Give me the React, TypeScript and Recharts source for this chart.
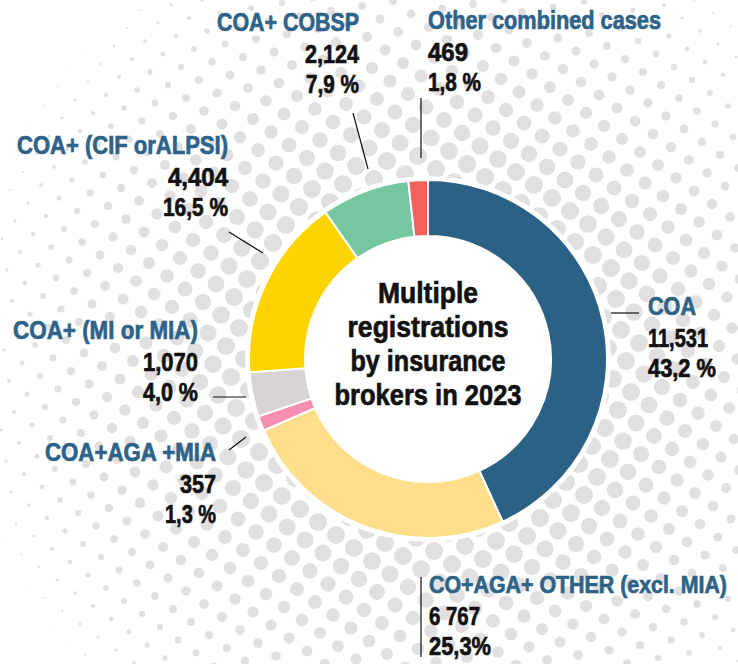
import React from 'react';
import { PieChart, Pie, Cell } from 'recharts';

// registrations, in clockwise order starting at 12 o'clock
const categories = [
  'COA',
  'CO+AGA+ OTHER (excl. MIA)',
  'COA+AGA +MIA',
  'COA+ (MI or MIA)',
  'COA+ (CIF orALPSI)',
  'COA+ COBSP',
  'Other combined cases',
];
const counts = [11531, 6767, 357, 1070, 4404, 2124, 469];
const countLabels = ['11,531', '6 767', '357', '1,070', '4,404', '2,124', '469'];
const shareLabels = ['43,2 %', '25,3%', '1,3 %', '4,0 %', '16,5 %', '7,9 %', '1,8 %'];
const colors = ['#2c6186', '#fddf8b', '#f98fb0', '#d9d4d4', '#fcd400', '#75c7a0', '#f2605a'];

const W = 738;
const H = 664;
const CX = 428;
const CY = 359;
const FONT = "'Liberation Sans', Arial, sans-serif";
const TITLE_BLUE = '#2d6389';

// label block: anchor x, first baseline, widths of the 3 lines (the font is squeezed to fit), leader line
const labelLayout = [
  { x: 648, y: 315, anchor: 'start', w: [48, 60, 68], line: [611, 313, 639, 313] },
  { x: 429, y: 593, anchor: 'start', w: [298, 51, 62], line: [421, 577, 421, 657] },
  { x: 216, y: 461, anchor: 'end', w: [171, 36, 51], line: [229, 450, 246, 437] },
  { x: 198, y: 339, anchor: 'end', w: [185, 55, 55], line: [213, 397, 246, 397] },
  { x: 228, y: 154, anchor: 'end', w: [211, 60, 65], line: [229, 232, 263, 253] },
  { x: 359, y: 31, anchor: 'end', w: [142, 54, 53], line: [353, 113, 368, 169] },
  { x: 428, y: 29, anchor: 'start', w: [233, 40, 53], line: [421, 98, 421, 158] },
];

const data = categories.map((name, i) => ({ name, value: counts[i] }));

function Halftone() {
  const dots: React.ReactNode[] = [];
  const ax = 18, ay = 13, bx = -13, by = 18;
  for (let i = -40; i <= 40; i++) {
    for (let j = -40; j <= 40; j++) {
      const x = 618 + i * ax + j * bx;
      const y = 410 + i * ay + j * by;
      if (x < -12 || x > W + 12 || y < -12 || y > H + 12) continue;
      const d = Math.hypot(x - CX, y - CY);
      const r = Math.min(9, 9.5 * (1 - (d - 190) / 290));
      if (r < 0.4) continue;
      dots.push(<circle key={`${i}-${j}`} cx={x} cy={y} r={r} fill="#e1dfdf" />);
    }
  }
  return (
    <svg width={W} height={H} style={{ position: 'absolute', left: 0, top: 0 }}>
      {dots}
      <circle cx={CX} cy={CY} r={183} fill="#ffffff" />
    </svg>
  );
}

const squeezed = (x: number, y: number, anchor: any, w: number, fill: string, size: number, s: string, key: string) => (
  <text
    key={key}
    x={x}
    y={y}
    textAnchor={anchor}
    fill={fill}
    stroke={fill}
    strokeWidth={0.7}
    fontFamily={FONT}
    fontWeight={700}
    fontSize={size}
    textLength={w}
    lengthAdjust="spacingAndGlyphs"
  >
    {s}
  </text>
);

const renderLabel = (props: any) => {
  const i = props.index;
  const l = labelLayout[i];
  // the long bottom-right title gets a touch smaller type
  const titleSize = l.w[0] > 280 ? 24 : 25;
  return (
    <g key={`lbl-${i}`}>
      <line x1={l.line[0]} y1={l.line[1]} x2={l.line[2]} y2={l.line[3]} stroke="#111" strokeWidth={1.2} />
      {squeezed(l.x, l.y, l.anchor, l.w[0], TITLE_BLUE, titleSize, categories[i], 'a')}
      {squeezed(l.x, l.y + 32, l.anchor, l.w[1], '#111', 25, countLabels[i], 'b')}
      {squeezed(l.x, l.y + 62, l.anchor, l.w[2], '#111', 25, shareLabels[i], 'c')}
    </g>
  );
};

const centerLines = ['Multiple', 'registrations', 'by insurance', 'brokers in 2023'];
const centerWidths = [100, 161, 155, 187];

export default function App() {
  return (
    <div style={{ position: 'absolute', left: 0, top: 0, width: W, height: H, background: '#fff', overflow: 'hidden' }}>
      <Halftone />
      <div style={{ position: 'absolute', left: 0, top: 0 }}>
        <PieChart width={W} height={H} margin={{ top: 0, right: 0, bottom: 0, left: 0 }}>
          <Pie
            data={data}
            dataKey="value"
            nameKey="name"
            cx={CX}
            cy={CY}
            innerRadius={123}
            outerRadius={179}
            startAngle={90}
            endAngle={-270}
            stroke="#ffffff"
            strokeWidth={2}
            label={renderLabel}
            labelLine={false}
            isAnimationActive={false}
          >
            {data.map((entry, index) => (
              <Cell key={`cell-${index}`} fill={colors[index]} />
            ))}
          </Pie>
        </PieChart>
      </div>
      <svg width={W} height={H} style={{ position: 'absolute', left: 0, top: 0, pointerEvents: 'none' }}>
        {centerLines.map((t, i) =>
          squeezed(CX, 303 + i * 34, 'middle', centerWidths[i], '#111', 30, t, t)
        )}
      </svg>
    </div>
  );
}
